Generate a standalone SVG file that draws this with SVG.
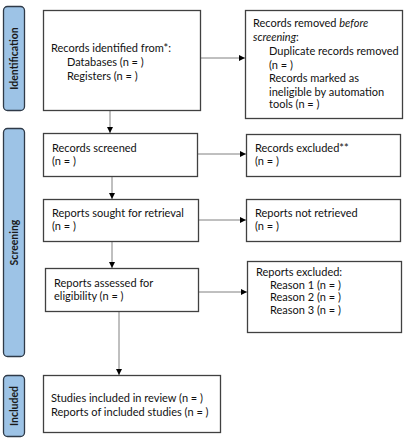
<svg xmlns="http://www.w3.org/2000/svg" width="407" height="440" viewBox="0 0 407 440">
<style>
.box{fill:#fff;stroke:#404040;stroke-width:1.3}
.lbl{fill:#9dc3e6;stroke:#2f3a48;stroke-width:1.3}
.lt{font-family:"Lato","Liberation Sans",Arial,sans-serif;font-size:10.5px;font-weight:bold;fill:#1a1a1a;text-anchor:middle}
.t{font-family:"Lato","Liberation Sans",sans-serif;font-size:11px;fill:#111}
.c{fill:none;stroke:#808080;stroke-width:1}
</style>
<defs>
<marker id="ah" viewBox="0 0 10 10" refX="10" refY="5" markerWidth="6" markerHeight="6" orient="auto" markerUnits="userSpaceOnUse">
<path d="M0,0 L10,5 L0,10 z" fill="#000"/>
</marker>
</defs>
<rect width="407" height="440" fill="#fff"/>
<g id="label-identification"><rect class="lbl" x="3.5" y="6.5" width="21" height="104" rx="4"/><text class="lt" transform="translate(17.8,58.5) rotate(-90)">Identification</text></g>
<g id="label-screening"><rect class="lbl" x="3.5" y="128.5" width="21" height="228" rx="4"/><text class="lt" transform="translate(17.8,242.5) rotate(-90)">Screening</text></g>
<g id="label-included"><rect class="lbl" x="3.5" y="375.5" width="21" height="61" rx="4"/><text class="lt" transform="translate(17.8,406) rotate(-90)">Included</text></g>
<g id="connectors">
<line class="c" x1="201" y1="58" x2="245" y2="58" marker-end="url(#ah)"/>
<line class="c" x1="110" y1="111" x2="110" y2="133" marker-end="url(#ah)"/>
<line class="c" x1="198" y1="154" x2="246" y2="154" marker-end="url(#ah)"/>
<line class="c" x1="112" y1="177" x2="112" y2="199" marker-end="url(#ah)"/>
<line class="c" x1="199" y1="220" x2="246" y2="220" marker-end="url(#ah)"/>
<line class="c" x1="112" y1="242" x2="112" y2="268" marker-end="url(#ah)"/>
<line class="c" x1="199" y1="292" x2="247" y2="292" marker-end="url(#ah)"/>
<line class="c" x1="119" y1="312" x2="119" y2="375" marker-end="url(#ah)"/>
</g>
<g id="records-identified"><rect class="box" x="43.5" y="10.5" width="157" height="100"/>
<text class="t" x="51" y="52">Records identified from*:</text>
<text class="t" x="67" y="66">Databases (n = )</text>
<text class="t" x="67" y="80">Registers (n = )</text></g>
<g id="records-removed"><rect class="box" x="245.5" y="10.5" width="157" height="108"/>
<text class="t" x="253" y="27">Records removed <tspan font-style="italic">before</tspan></text>
<text class="t" x="253" y="41"><tspan font-style="italic">screening</tspan>:</text>
<text class="t" x="269" y="55">Duplicate records removed</text>
<text class="t" x="269" y="69">(n = )</text>
<text class="t" x="269" y="82">Records marked as</text>
<text class="t" x="269" y="96">ineligible by automation</text>
<text class="t" x="269" y="108">tools (n = )</text></g>
<g id="records-screened"><rect class="box" x="43.5" y="133.5" width="154" height="43"/>
<text class="t" x="52" y="152">Records screened</text>
<text class="t" x="52" y="165">(n = )</text></g>
<g id="records-excluded"><rect class="box" x="246.5" y="134.5" width="154" height="42"/>
<text class="t" x="255" y="152">Records excluded**</text>
<text class="t" x="255" y="165">(n = )</text></g>
<g id="reports-sought"><rect class="box" x="43.5" y="199.5" width="155" height="42"/>
<text class="t" x="52" y="217">Reports sought for retrieval</text>
<text class="t" x="52" y="230">(n = )</text></g>
<g id="reports-not-retrieved"><rect class="box" x="246.5" y="199.5" width="154" height="42"/>
<text class="t" x="255" y="217">Reports not retrieved</text>
<text class="t" x="255" y="230">(n = )</text></g>
<g id="reports-assessed"><rect class="box" x="45.5" y="268.5" width="153" height="43"/>
<text class="t" x="54" y="287">Reports assessed for</text>
<text class="t" x="54" y="300">eligibility (n = )</text></g>
<g id="reports-excluded"><rect class="box" x="247.5" y="261.5" width="154" height="71"/>
<text class="t" x="256" y="276">Reports excluded:</text>
<text class="t" x="270" y="289">Reason 1 (n = )</text>
<text class="t" x="270" y="301">Reason 2 (n = )</text>
<text class="t" x="270" y="314">Reason 3 (n = )</text></g>
<g id="studies-included"><rect class="box" x="43.5" y="375.5" width="177" height="57"/>
<text class="t" x="51" y="402">Studies included in review (n = )</text>
<text class="t" x="51" y="416">Reports of included studies (n = )</text></g>
</svg>
